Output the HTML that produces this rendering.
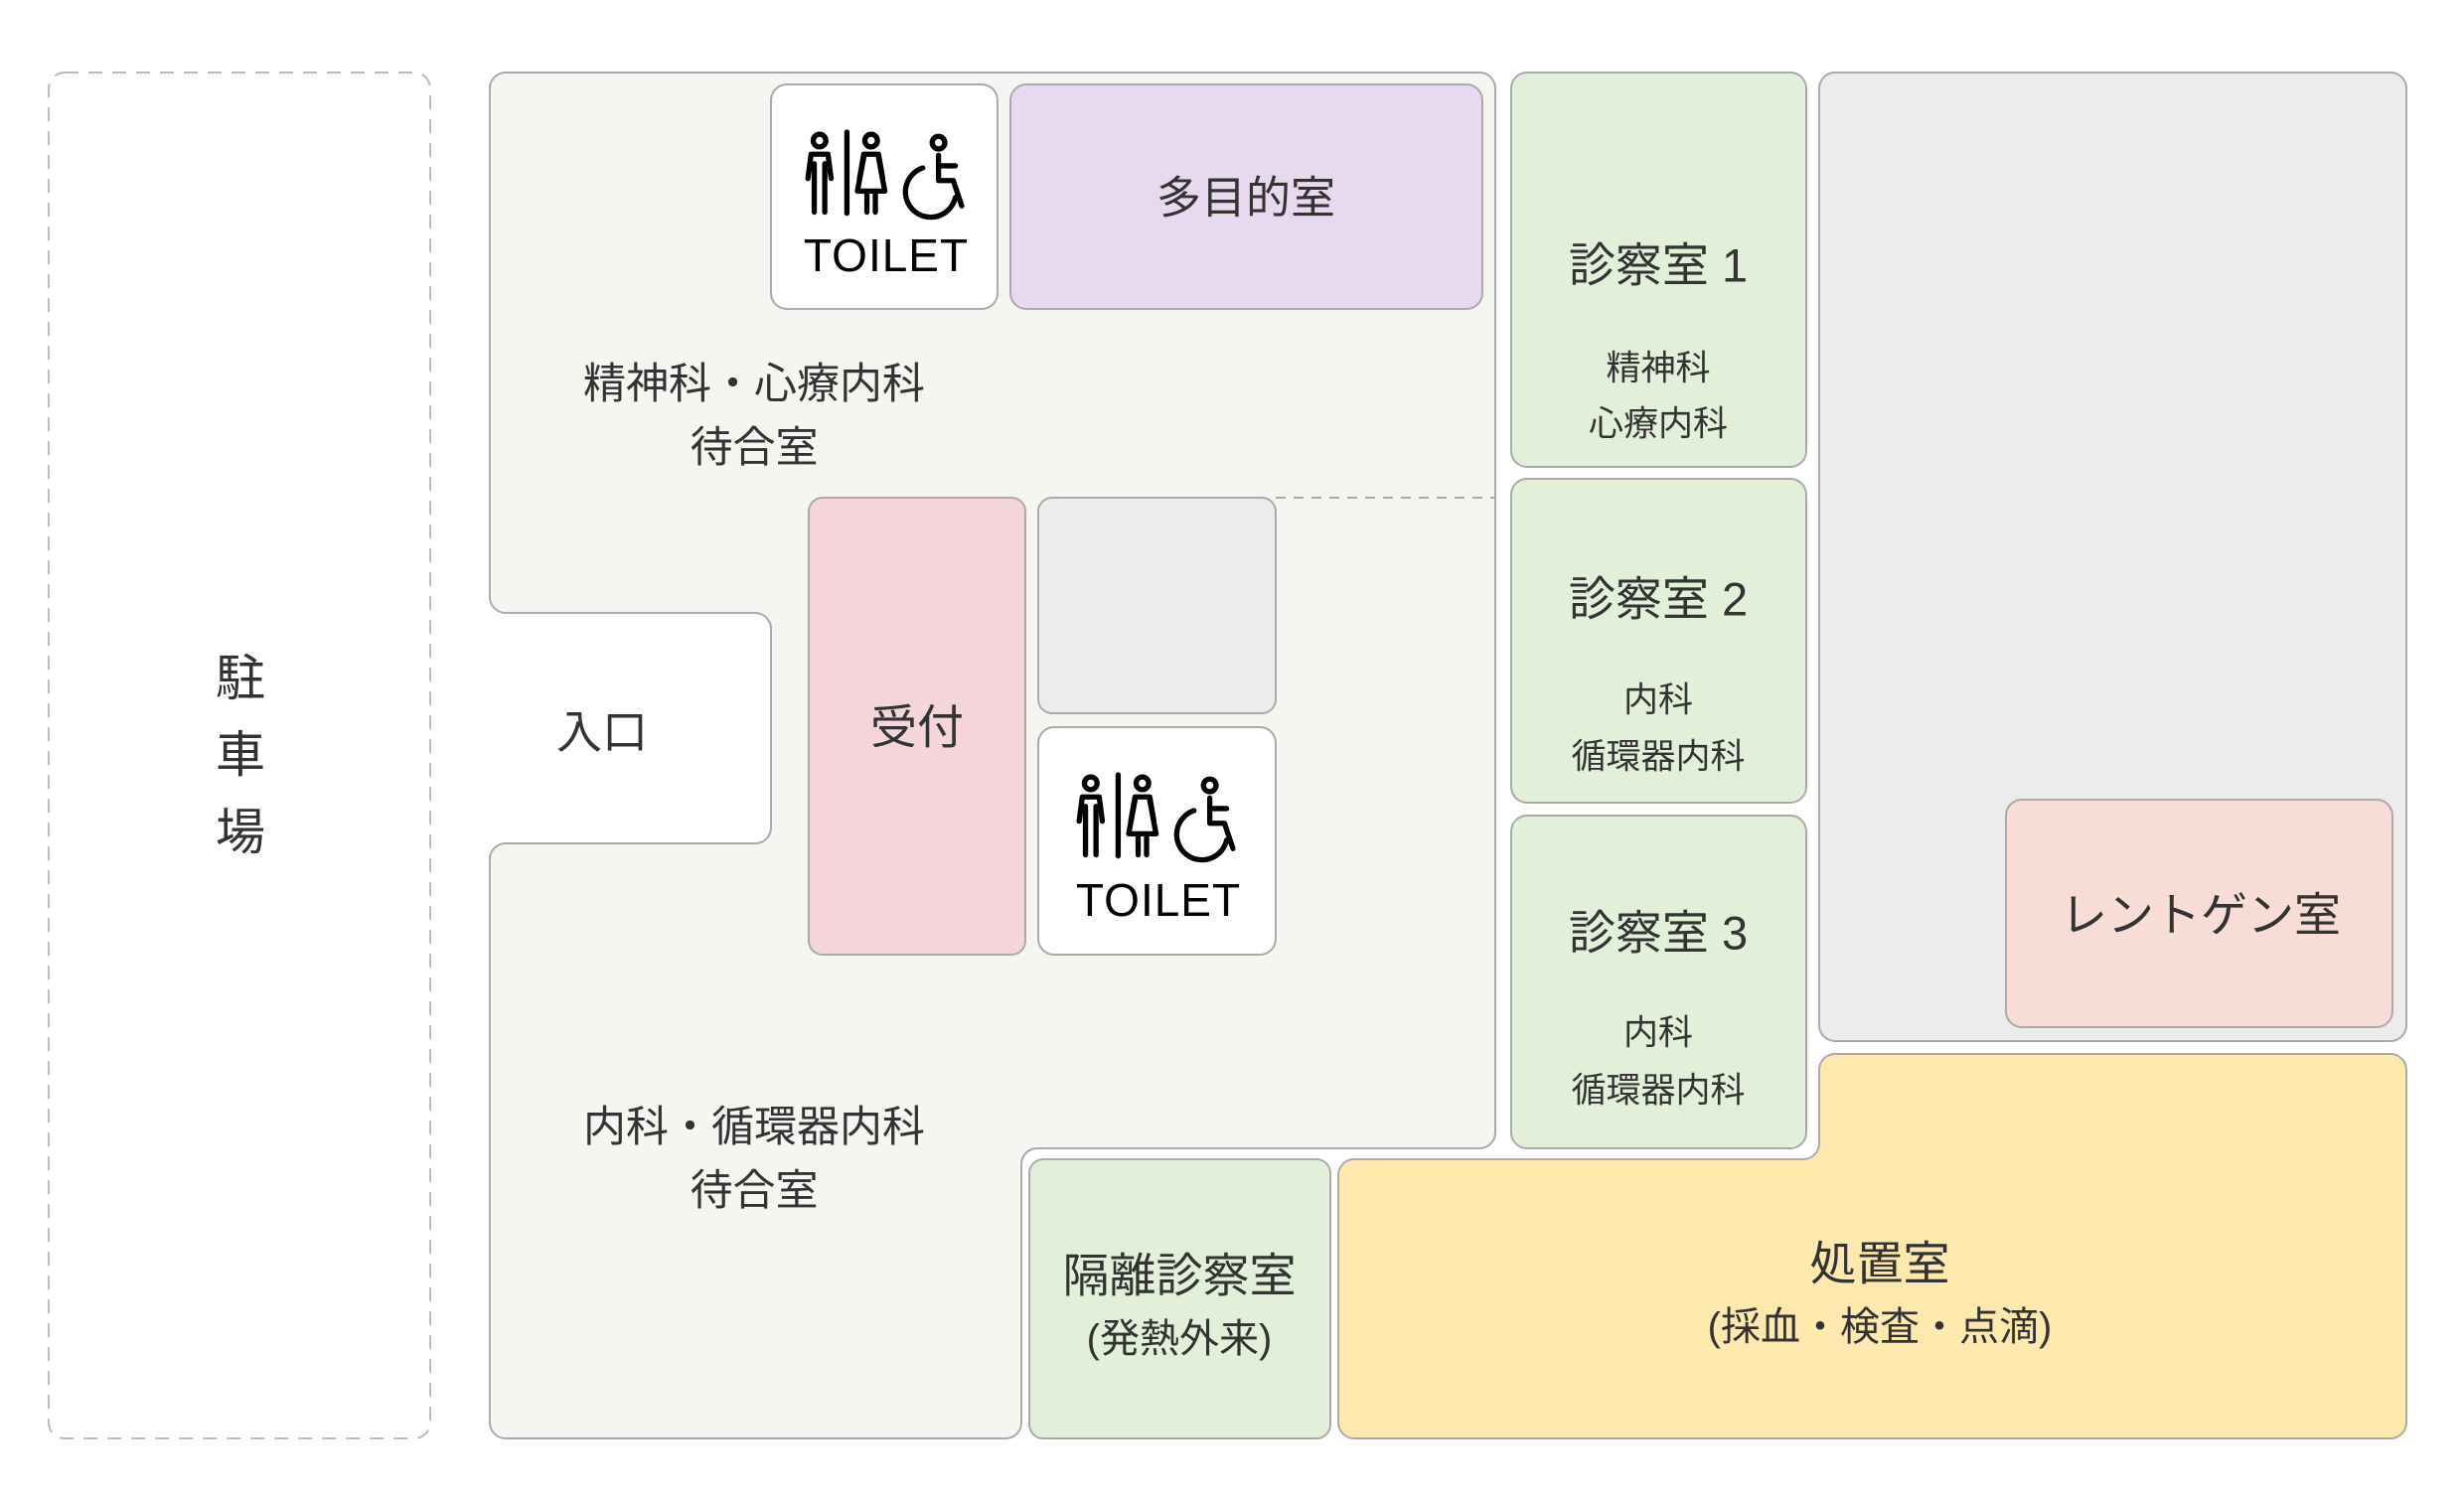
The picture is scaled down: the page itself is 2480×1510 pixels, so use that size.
<!DOCTYPE html>
<html><head><meta charset="utf-8"><style>
html,body{margin:0;padding:0;background:#fff;}
svg{display:block;}
text{font-family:"Liberation Sans","Noto Sans CJK JP",sans-serif;fill:#333;text-anchor:middle;dominant-baseline:central;}
</style></head><body>
<svg width="2480" height="1510" viewBox="0 0 2480 1510" xmlns="http://www.w3.org/2000/svg">
<!-- parking -->
<rect x="49" y="73" width="384" height="1375" rx="16" fill="#fff" stroke="#bbb" stroke-width="2" stroke-dasharray="14 10"/>
<text x="242" y="683" font-size="50">駐</text>
<text x="242" y="760" font-size="50">車</text>
<text x="242" y="838" font-size="50">場</text>

<!-- main waiting area -->
<path d="M509 73 H1489 A16 16 0 0 1 1505 89 V1140 A16 16 0 0 1 1489 1156 H1044 A16 16 0 0 0 1028 1172 V1432 A16 16 0 0 1 1012 1448 H509 A16 16 0 0 1 493 1432 V865 A16 16 0 0 1 509 849 H760 A16 16 0 0 0 776 833 V633 A16 16 0 0 0 760 617 H509 A16 16 0 0 1 493 601 V89 A16 16 0 0 1 509 73 Z" fill="#f5f5f1" stroke="#aaa" stroke-width="2"/>
<line x1="1284" y1="501" x2="1505" y2="501" stroke="#aaa" stroke-width="2" stroke-dasharray="10 8"/>
<text x="759" y="387" font-size="43">精神科・心療内科</text>
<text x="759" y="451" font-size="43">待合室</text>
<text x="606" y="737" font-size="46">入口</text>
<text x="759" y="1135" font-size="43">内科・循環器内科</text>
<text x="759" y="1199" font-size="43">待合室</text>

<!-- toilet 1 -->
<rect x="776" y="85" width="228" height="226" rx="16" fill="#fff" stroke="#aaa" stroke-width="2"/>
<g transform="translate(810,133) scale(1.06)" fill="none" stroke="#000" stroke-width="5" stroke-linecap="round" stroke-linejoin="round">
<circle cx="14" cy="8" r="6"/><path d="M3 44 L6 21 H22 L25 44"/><path d="M9 30 V76 M19 30 V76"/>
<path d="M40 0 V77"/>
<circle cx="63" cy="8" r="6"/><path d="M52 44 L56 21 H70 L74 44"/><path d="M56 24 L50 56 H76 L70 24"/><path d="M59 56 V76 M67 56 V76"/>
<circle cx="127" cy="10" r="6"/><path d="M127 22 V46 H141 L149 70"/><path d="M127 32 H143"/><path d="M112 34 A24 24 0 1 0 143 62"/>
</g>
<text x="892" y="257" font-size="46" letter-spacing="1" style="fill:#000">TOILET</text>

<!-- multipurpose -->
<rect x="1017" y="85" width="475" height="226" rx="16" fill="#e8d9f0" stroke="#aaa" stroke-width="2"/>
<text x="1254" y="199" font-size="45">多目的室</text>

<!-- reception -->
<rect x="814" y="501" width="218" height="460" rx="14" fill="#f5d5dc" stroke="#aaa" stroke-width="2"/>
<text x="923" y="732" font-size="47">受付</text>

<!-- gray small -->
<rect x="1045" y="501" width="239" height="217" rx="14" fill="#ececec" stroke="#aaa" stroke-width="2"/>

<!-- toilet 2 -->
<rect x="1045" y="732" width="239" height="229" rx="16" fill="#fff" stroke="#aaa" stroke-width="2"/>
<g transform="translate(1083,780) scale(1.06)" fill="none" stroke="#000" stroke-width="5" stroke-linecap="round" stroke-linejoin="round">
<circle cx="14" cy="8" r="6"/><path d="M3 44 L6 21 H22 L25 44"/><path d="M9 30 V76 M19 30 V76"/>
<path d="M40 0 V77"/>
<circle cx="63" cy="8" r="6"/><path d="M52 44 L56 21 H70 L74 44"/><path d="M56 24 L50 56 H76 L70 24"/><path d="M59 56 V76 M67 56 V76"/>
<circle cx="127" cy="10" r="6"/><path d="M127 22 V46 H141 L149 70"/><path d="M127 32 H143"/><path d="M112 34 A24 24 0 1 0 143 62"/>
</g>
<text x="1166" y="906" font-size="46" letter-spacing="1" style="fill:#000">TOILET</text>

<!-- isolation -->
<rect x="1036" y="1167" width="303" height="281" rx="14" fill="#e2efd9" stroke="#aaa" stroke-width="2"/>
<text x="1187" y="1284" font-size="47">隔離診察室</text>
<text x="1187" y="1348" font-size="40">(発熱外来)</text>

<!-- exam rooms -->
<rect x="1521" y="73" width="297" height="397" rx="16" fill="#e2efd9" stroke="#aaa" stroke-width="2"/>
<text x="1669" y="267" font-size="47">診察室 1</text>
<text x="1669" y="371" font-size="35">精神科</text>
<text x="1669" y="427" font-size="35">心療内科</text>

<rect x="1521" y="482" width="297" height="326" rx="16" fill="#e2efd9" stroke="#aaa" stroke-width="2"/>
<text x="1669" y="603" font-size="47">診察室 2</text>
<text x="1669" y="705" font-size="35">内科</text>
<text x="1669" y="762" font-size="35">循環器内科</text>

<rect x="1521" y="821" width="297" height="335" rx="16" fill="#e2efd9" stroke="#aaa" stroke-width="2"/>
<text x="1669" y="939" font-size="47">診察室 3</text>
<text x="1669" y="1040" font-size="35">内科</text>
<text x="1669" y="1098" font-size="35">循環器内科</text>

<!-- big gray -->
<rect x="1831" y="73" width="591" height="975" rx="16" fill="#ececec" stroke="#aaa" stroke-width="2"/>
<rect x="2019" y="805" width="389" height="229" rx="16" fill="#f7ddd5" stroke="#aaa" stroke-width="2"/>
<text x="2215" y="921" font-size="47">レントゲン室</text>

<!-- treatment room -->
<path d="M1363 1167 H1815 A16 16 0 0 0 1831 1151 V1077 A16 16 0 0 1 1847 1061 H2406 A16 16 0 0 1 2422 1077 V1432 A16 16 0 0 1 2406 1448 H1363 A16 16 0 0 1 1347 1432 V1183 A16 16 0 0 1 1363 1167 Z" fill="#fde8ad" stroke="#aaa" stroke-width="2"/>
<text x="1892" y="1272" font-size="47">処置室</text>
<text x="1892" y="1336" font-size="40">(採血・検査・点滴)</text>
</svg>
</body></html>
